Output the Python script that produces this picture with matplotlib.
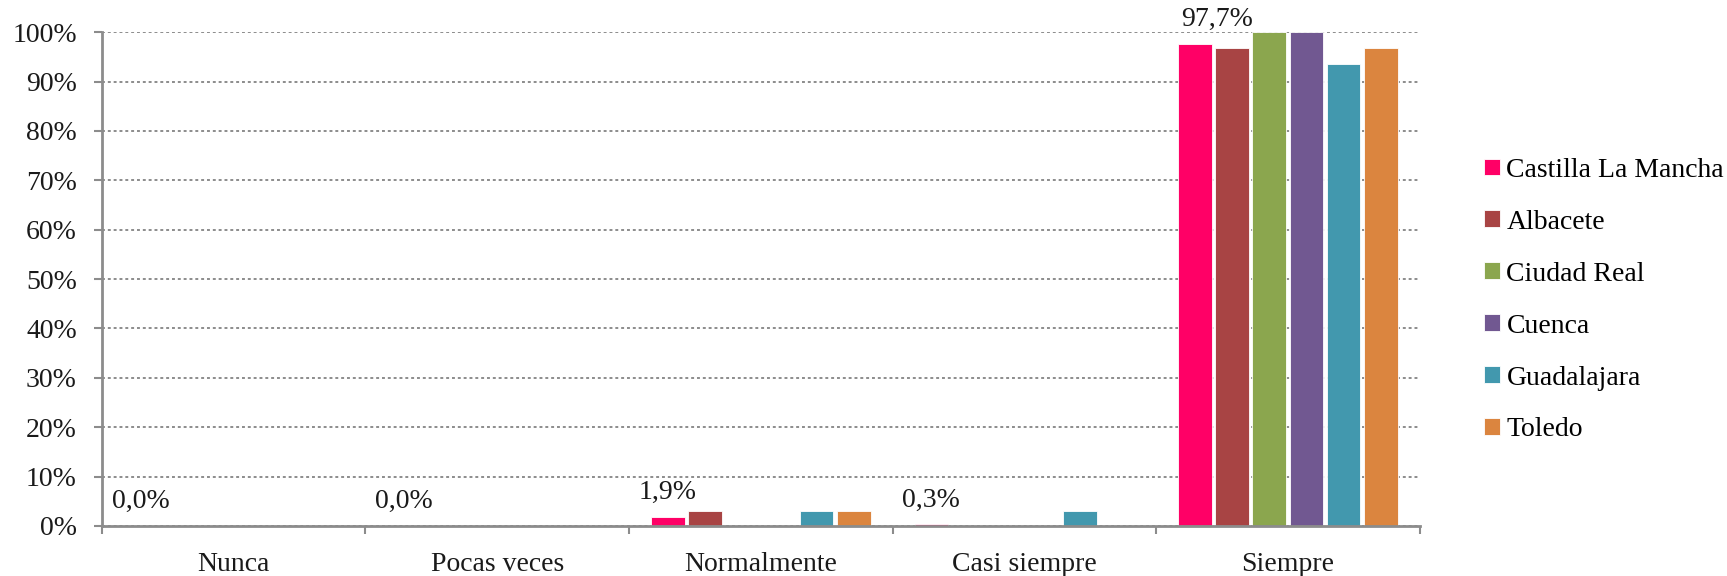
import numpy as np
import matplotlib.pyplot as plt
from matplotlib.ticker import FixedLocator, NullFormatter

# Data (percent)
categories = ['Nunca', 'Pocas veces', 'Normalmente', 'Casi siempre', 'Siempre']
series = ['Castilla La Mancha', 'Albacete', 'Ciudad Real', 'Cuenca', 'Guadalajara', 'Toledo']
clm = [0.0, 0.0, 1.9, 0.3, 97.7]
albacete = [0.0, 0.0, 3.0, 0.0, 96.9]
ciudad_real = [0.0, 0.0, 0.0, 0.0, 100.0]
cuenca = [0.0, 0.0, 0.0, 0.0, 100.0]
guadalajara = [0.0, 0.0, 3.0, 3.0, 93.5]
toledo = [0.0, 0.0, 3.0, 0.0, 96.9]
values = [clm, albacete, ciudad_real, cuenca, guadalajara, toledo]
clm_labels = ['0,0%', '0,0%', '1,9%', '0,3%', '97,7%']

colors = ['#FF0066', '#A84444', '#8BA64E', '#715891', '#4298AE', '#DB853F']
grey = '#8C8C8C'
txt = '#1a1a1a'
fs = 20

plt.rcParams['font.family'] = ['Liberation Serif', 'DejaVu Serif']

fig = plt.figure(figsize=(17.27, 5.76), dpi=100)
ax = fig.add_axes([0.059, 0.087, 0.763, 0.857])

x = np.arange(len(categories))
step = 0.141
width = 0.128
for i, (name, vals) in enumerate(zip(series, values)):
    ax.bar(x + (i - 2.5) * step, vals, width, color=colors[i], label=name,
           edgecolor='white', linewidth=0.6, zorder=3)

# Data labels for Castilla La Mancha only
for j, lab in enumerate(clm_labels):
    dx = 22 if clm[j] > 50 else 0
    ax.annotate(lab, (x[j] - 2.5 * step, clm[j]), xytext=(dx, 12),
                textcoords='offset pixels', ha='center', va='bottom',
                fontsize=fs, color=txt, zorder=4)

ax.set_xlim(-0.5, len(categories) - 0.5)
ax.set_ylim(0, 100)
ax.set_yticks(np.arange(0, 101, 10))
ax.set_yticklabels([f'{v}%' for v in range(0, 101, 10)])

ax.xaxis.set_major_locator(FixedLocator(np.arange(-0.5, len(categories), 1)))
ax.xaxis.set_major_formatter(NullFormatter())
ax.xaxis.set_minor_locator(FixedLocator(x))
ax.set_xticklabels(categories, minor=True)
ax.tick_params(axis='x', which='minor', length=0, pad=19, labelsize=fs, labelcolor=txt)
ax.tick_params(axis='x', which='major', length=6, width=1.5, color=grey, direction='out')
ax.tick_params(axis='y', length=6, width=1.5, color=grey, pad=12, labelsize=fs,
               labelcolor=txt)

ax.grid(axis='y', linestyle=(0, (1.5, 1.5)), color=grey, linewidth=1.4, zorder=0)
for s in ['top', 'right']:
    ax.spines[s].set_visible(False)
for s in ['left', 'bottom']:
    ax.spines[s].set_color(grey)
    ax.spines[s].set_linewidth(2)
    ax.spines[s].set_zorder(5)

leg = ax.legend(loc='center left', bbox_to_anchor=(0.853, 0.479),
                bbox_transform=fig.transFigure, borderaxespad=0, frameon=False,
                fontsize=fs, handlelength=0.55, handleheight=0.55, handletextpad=0.25,
                labelspacing=0.97)

fig.savefig('out.png', dpi=100)
